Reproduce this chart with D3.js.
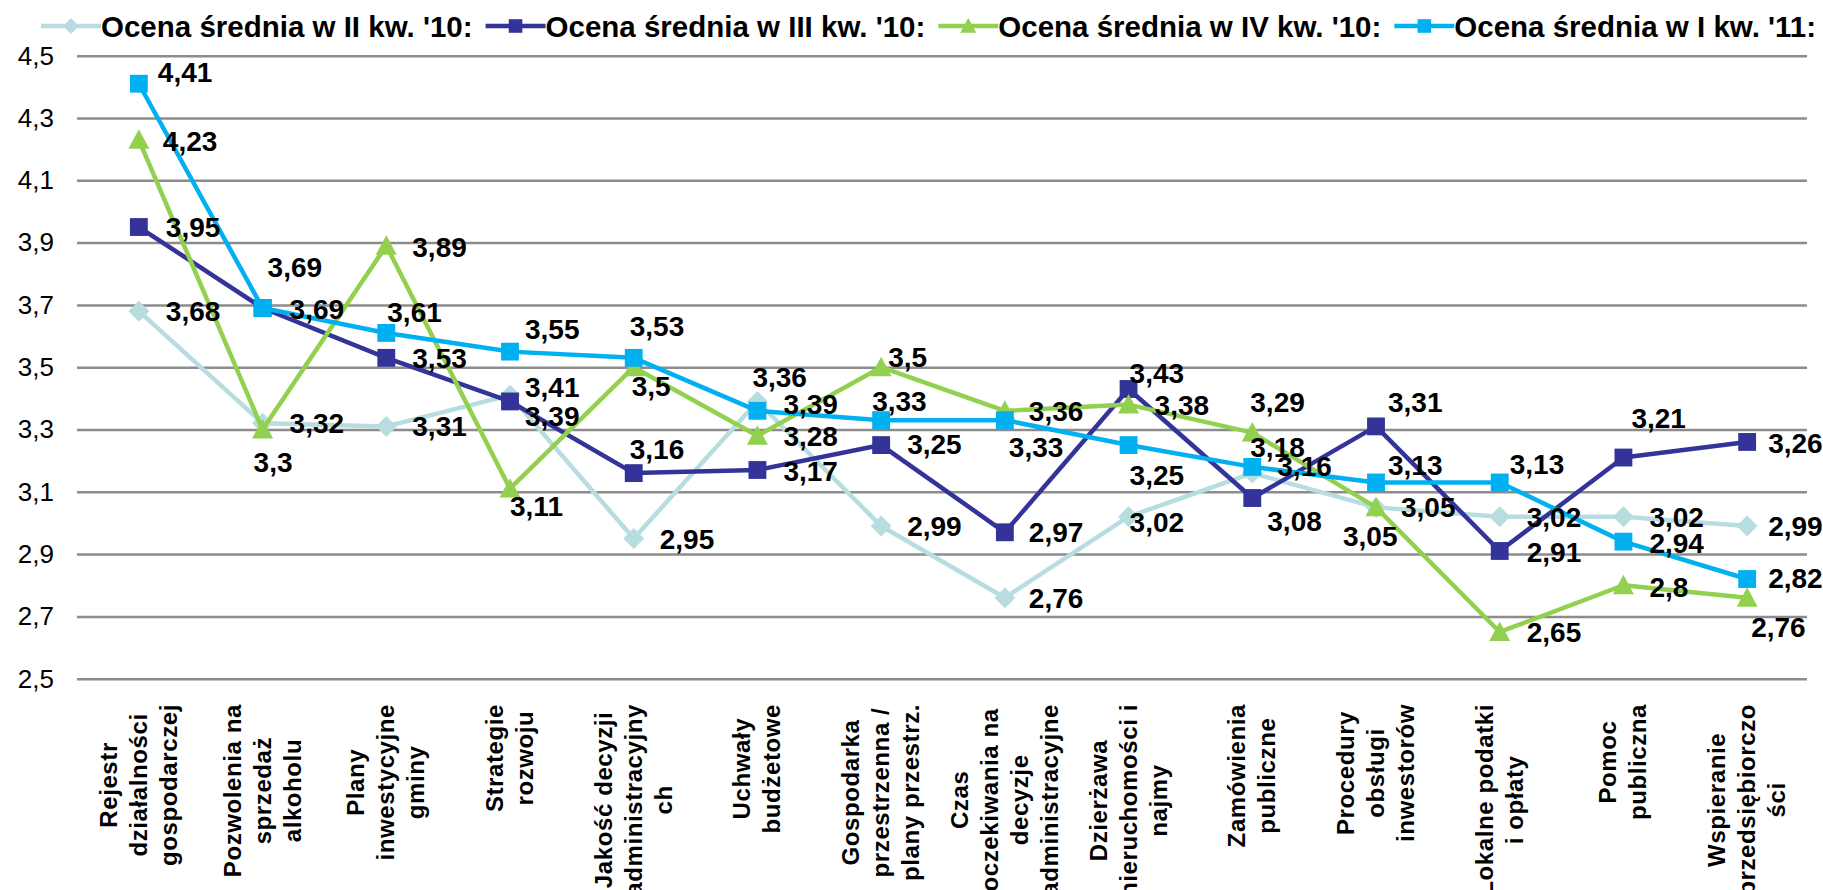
<!DOCTYPE html>
<html>
<head>
<meta charset="utf-8">
<script src="https://cdnjs.cloudflare.com/ajax/libs/d3/7.8.5/d3.min.js"></script>
<style>
body { margin:0; background:#fff; }
svg { display:block; font-family:"Liberation Sans", Arial, sans-serif; }
.grid line { stroke:#8c8c8c; stroke-width:2.5px; }
.grid path { display:none; }
.grid text { font-size:26px; fill:#000; }
.value { font-size:28px; font-weight:bold; fill:#000; }
.cat { font-size:24px; font-weight:bold; letter-spacing:0.6px; fill:#000; }
.legend text { font-size:29.5px; font-weight:bold; fill:#000; }
</style>
</head>
<body>
<svg id="chart" width="1823" height="890"></svg>
<script>
// categories, '|' marks the line breaks of the axis labels
var categories = [
	"Rejestr|działalności|gospodarczej",
	"Pozwolenia na|sprzedaż|alkoholu",
	"Plany|inwestycyjne|gminy",
	"Strategie|rozwoju",
	"Jakość decyzji|administracyjny|ch",
	"Uchwały|budżetowe",
	"Gospodarka|przestrzenna /|plany przestrz.",
	"Czas|oczekiwania na|decyzje|administracyjne",
	"Dzierżawa|nieruchomości i|najmy",
	"Zamówienia|publiczne",
	"Procedury|obsługi|inwestorów",
	"Lokalne podatki|i opłaty",
	"Pomoc|publiczna",
	"Wspieranie|przedsiębiorczo|ści"
];

var seriesNames = [
	"Ocena średnia w II kw. '10:",
	"Ocena średnia w III kw. '10:",
	"Ocena średnia w IV kw. '10:",
	"Ocena średnia w I kw. '11:"
];

var q2_10 = [3.68, 3.32, 3.31, 3.41, 2.95, 3.39, 2.99, 2.76, 3.02, 3.16, 3.05, 3.02, 3.02, 2.99];
var q3_10 = [3.95, 3.69, 3.53, 3.39, 3.16, 3.17, 3.25, 2.97, 3.43, 3.08, 3.31, 2.91, 3.21, 3.26];
var q4_10 = [4.23, 3.30, 3.89, 3.11, 3.50, 3.28, 3.50, 3.36, 3.38, 3.29, 3.05, 2.65, 2.80, 2.76];
var q1_11 = [4.41, 3.69, 3.61, 3.55, 3.53, 3.36, 3.33, 3.33, 3.25, 3.18, 3.13, 3.13, 2.94, 2.82];

var yTicks = [2.5, 2.7, 2.9, 3.1, 3.3, 3.5, 3.7, 3.9, 4.1, 4.3, 4.5];

// label placement relative to the point: [left edge dx, centre dy]
var offs_q2_10 = [[27,0],[27,0],[26,0],[15,-8],[26,0],[26,3],[26,0],[24,0],[1,5],[25,-7],[25,0],[27,0],[26,0],[21,0]];
var offs_q3_10 = [[27,0],[27,1],[26,0],[15,15],[-4,-24],[26,1],[26,-1],[24,0],[1,-16],[15,23],[12,-24],[27,1],[8,-40],[21,1]];
var offs_q4_10 = [[24,1],[-9,32],[26,1],[0,17],[-2,19],[26,0],[7,-10],[24,0],[26,0],[-2,-31],[-33,29],[27,0],[26,2],[4,29]];
var offs_q1_11 = [[19,-12],[5,-41],[1,-21],[15,-23],[-4,-32],[-5,-34],[-9,-19],[4,27],[1,30],[-2,-20],[12,-17],[10,-18],[26,1],[21,-1]];

var colors = ["#b7dde1", "#333399", "#92d050", "#00b0f0"];
var shapes = ["diamond", "square", "triangle", "square"];

var series = [q2_10, q3_10, q4_10, q1_11].map(function(vals, k) {
	return {
		name: seriesNames[k],
		color: colors[k],
		shape: shapes[k],
		offs: [offs_q2_10, offs_q3_10, offs_q4_10, offs_q1_11][k],
		values: vals
	};
});

var plotLeft = 77, plotRight = 1809, plotTop = 55.7, plotBottom = 678.7;

var svg = d3.select("#chart");

var x = d3.scaleBand()
	.domain(categories)
	.range([plotLeft, plotRight])
	.padding(0);

var y = d3.scaleLinear()
	.domain([2.5, 4.5])
	.range([plotBottom, plotTop]);

function cx(i) { return x(categories[i]) + x.bandwidth() / 2; }
function comma(v) { return String(v).replace(".", ","); }

svg.append("g")
	.attr("class", "grid")
	.attr("transform", "translate(" + plotLeft + ",0)")
	.call(d3.axisLeft(y)
		.tickValues(yTicks)
		.tickSize(-(1807 - plotLeft))
		.tickPadding(23)
		.tickFormat(function(d) { return d3.format(".1f")(d).replace(".", ","); }));

function markerPath(shape, s) {
	if (shape == "diamond") return "M0," + (-s) + "L" + s + ",0L0," + s + "L" + (-s) + ",0Z";
	if (shape == "triangle") return "M0," + (-s) + "L" + s + "," + (s * 0.85) + "L" + (-s) + "," + (s * 0.85) + "Z";
	return "M" + (-s * 0.85) + "," + (-s * 0.85) + "h" + (s * 1.7) + "v" + (s * 1.7) + "h" + (-s * 1.7) + "Z";
}

var line = d3.line()
	.x(function(d, i) { return cx(i); })
	.y(function(d) { return y(d); });

var sg = svg.selectAll(".series")
	.data(series)
	.enter()
	.append("g")
	.attr("class", "series");

sg.append("path")
	.attr("d", function(d) { return line(d.values); })
	.attr("fill", "none")
	.attr("stroke", function(d) { return d.color; })
	.attr("stroke-width", 4.5)
	.attr("stroke-linejoin", "round");

sg.each(function(s) {
	d3.select(this).selectAll("path.mk")
	.data(s.values)
	.enter()
	.append("path")
	.attr("class", "mk")
	.attr("transform", function(d, i) { return "translate(" + cx(i) + "," + y(d) + ")"; })
	.attr("d", markerPath(s.shape, 10.5))
	.attr("fill", s.color);
});

// value labels on top of all lines
series.forEach(function(s) {
	svg.append("g").selectAll("text")
	.data(s.values)
	.enter()
	.append("text")
	.attr("class", "value")
	.attr("x", function(d, i) { return cx(i) + s.offs[i][0]; })
	.attr("y", function(d, i) { return y(d) + s.offs[i][1] + 10; })
	.text(function(d) { return comma(d); });
});

// rotated category labels, lines centred on each other, block starting under the axis
var lineH = 30, labelTop = 704;
categories.forEach(function(c, i) {
	var lines = c.split("|");
	var g = svg.append("g");
	var texts = lines.map(function(t) {
		return g.append("text").attr("class", "cat").attr("text-anchor", "middle").text(t);
	});
	var maxW = d3.max(texts, function(t) { return t.node().getComputedTextLength(); });
	texts.forEach(function(t, j) {
		var lx = cx(i) + (j - (lines.length - 1) / 2) * lineH;
		t.attr("transform", "translate(" + (lx + 8) + "," + (labelTop + maxW / 2) + ") rotate(-90)");
	});
});

// legend
var legend = svg.append("g").attr("class", "legend");
var lx = 41, ly = 26;
series.forEach(function(s) {
	legend.append("line")
	.attr("x1", lx).attr("x2", lx + 60)
	.attr("y1", ly).attr("y2", ly)
	.attr("stroke", s.color)
	.attr("stroke-width", 4.5);
	legend.append("path")
	.attr("transform", "translate(" + (lx + 30) + "," + ly + ")")
	.attr("d", markerPath(s.shape, 8))
	.attr("fill", s.color);
	var t = legend.append("text")
	.attr("x", lx + 60)
	.attr("y", ly + 10.5)
	.text(s.name);
	lx += 60 + t.node().getComputedTextLength() + 13;
});
</script>
</body>
</html>
